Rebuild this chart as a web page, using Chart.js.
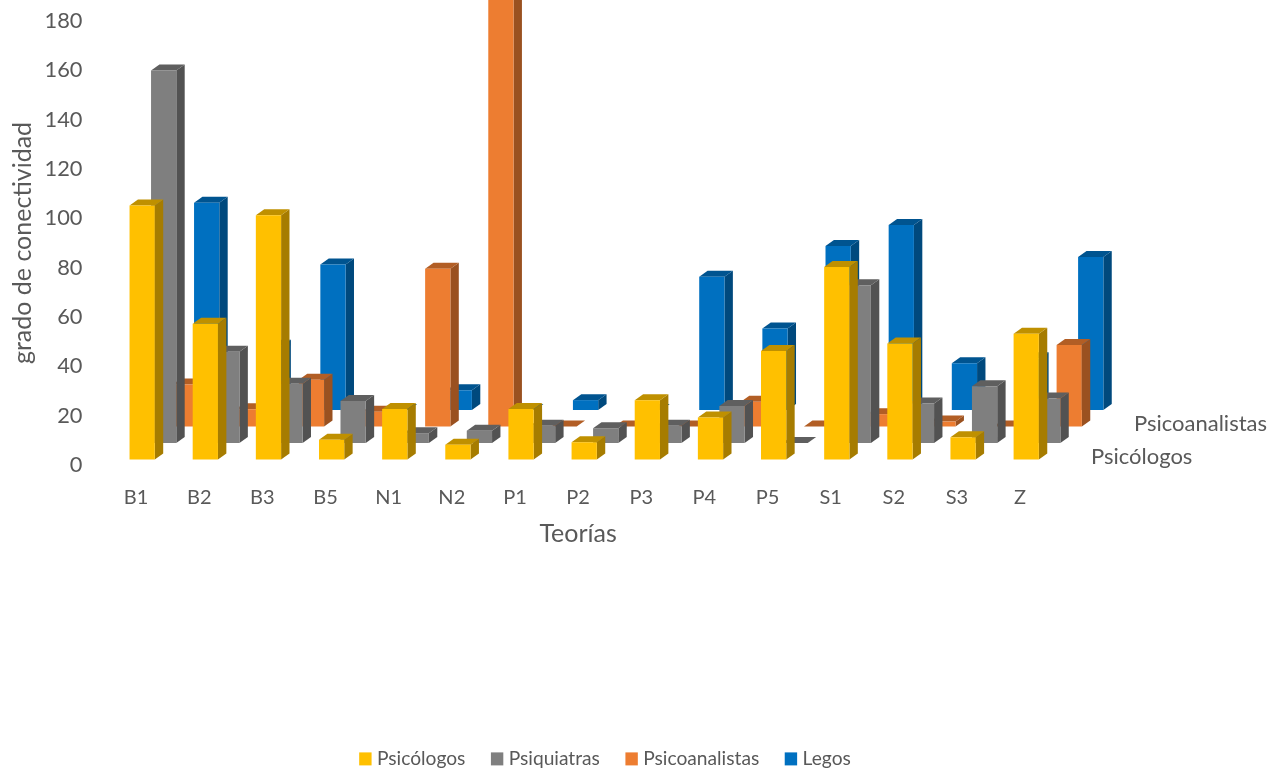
<!DOCTYPE html>
<html lang="es">
<head>
<meta charset="utf-8">
<title>Grado de conectividad por teoría</title>
<script src="https://cdn.jsdelivr.net/npm/chart.js@4/dist/chart.umd.js"></script>
<style>
  html, body { margin: 0; padding: 0; background: #fff; }
  canvas { display: block; }
</style>
</head>
<body>
<canvas id="chart" width="1287" height="772"></canvas>
<script>
const categories = ["B1", "B2", "B3", "B5", "N1", "N2", "P1", "P2", "P3", "P4", "P5", "S1", "S2", "S3", "Z"];
const psicologos = [103, 55, 99, 8, 20.5, 6, 20.5, 7, 24, 17, 44, 78, 47, 9, 51];
const psiquiatras = [151, 37, 24, 17, 4, 5, 7, 6, 7, 15, 0, 64, 16, 23, 18];
const psicoanalistas = [17, 7, 19, 6, 64, 185, 0, 0, 0, 10, 0, 5, 2, 0, 33];
const legos = [84, 26, 59, 0, 8, 0, 4, 0, 54, 33, 66.5, 75, 19, 21, 62];

const seriesNames = ["Psicólogos", "Psiquiatras", "Psicoanalistas", "Legos"];
const frontColors = ["#FFC000", "#7F7F7F", "#ED7D31", "#0070C0"];
const topColors = ["#BF9000", "#5F5F5F", "#B25E25", "#005490"];
const sideColors = ["#A67C00", "#525252", "#9A5120", "#00497D"];
const depthLabels = [["Psicólogos", 1091, 457], ["Psicoanalistas", 1134, 424]];

const FONT = "Lato, Carlito, sans-serif";
const TEXT = "#595959";

// each series sits further back on the depth axis
const SERIES_DX = 21.5, SERIES_DY = 16.5, START_DX = 6.1, START_DY = -5.5;
// extrusion of a single bar
const DEPTH_X = 8.4, DEPTH_Y = 6;

function poly(ctx, color, pts) {
  ctx.fillStyle = color;
  ctx.beginPath();
  pts.forEach((p, i) => (i ? ctx.lineTo(p[0], p[1]) : ctx.moveTo(p[0], p[1])));
  ctx.closePath();
  ctx.fill();
}

const bars3d = {
  id: "bars3d",
  // replaces the flat bars with front, top and side faces
  beforeDatasetDraw(chart, args) {
    const ctx = chart.ctx;
    const i = args.index;
    const dx = START_DX + SERIES_DX * i;
    const dy = START_DY - SERIES_DY * i;
    ctx.save();
    args.meta.data.forEach((bar) => {
      const w = bar.width;
      const x = bar.x - w / 2 + dx;
      const y = bar.y + dy;
      const b = bar.base + dy;
      poly(ctx, sideColors[i], [[x + w, y], [x + w + DEPTH_X, y - DEPTH_Y], [x + w + DEPTH_X, b - DEPTH_Y], [x + w, b]]);
      poly(ctx, topColors[i], [[x, y], [x + DEPTH_X, y - DEPTH_Y], [x + w + DEPTH_X, y - DEPTH_Y], [x + w, y]]);
      if (b - y > 0) poly(ctx, frontColors[i], [[x, y], [x + w, y], [x + w, b], [x, b]]);
    });
    ctx.restore();
    return false;
  },
  // depth axis labels and the legend row
  afterDraw(chart) {
    const ctx = chart.ctx;
    ctx.save();
    ctx.fillStyle = TEXT;
    ctx.textBaseline = "middle";
    ctx.textAlign = "left";
    ctx.font = "22px " + FONT;
    depthLabels.forEach((d) => ctx.fillText(d[0], d[1], d[2]));

    ctx.font = "19.2px " + FONT;
    const boxW = 12.4, boxGap = 5.4, itemGap = 25.5;
    const total = seriesNames.reduce((s, n) => s + boxW + boxGap + ctx.measureText(n).width, 0) + itemGap * 3;
    let x = 605 - total / 2;
    seriesNames.forEach((n, i) => {
      ctx.fillStyle = frontColors[i];
      ctx.fillRect(x, 752.4, boxW, 13);
      ctx.fillStyle = TEXT;
      ctx.fillText(n, x + boxW + boxGap, 759);
      x += boxW + boxGap + ctx.measureText(n).width + itemGap;
    });
    ctx.restore();
  }
};

new Chart(document.getElementById("chart"), {
  type: "bar",
  data: {
    labels: categories,
    datasets: [psicologos, psiquiatras, psicoanalistas, legos].map((values, i) => ({
      label: seriesNames[i],
      data: values,
      backgroundColor: frontColors[i],
      grouped: false,
      barPercentage: 0.4,
      categoryPercentage: 1
    }))
  },
  options: {
    responsive: false,
    animation: false,
    layout: { padding: { top: 0, left: 0, right: 235.3, bottom: 223 } },
    plugins: { legend: { display: false }, tooltip: { enabled: false } },
    scales: {
      x: {
        afterFit: (s) => { s.height = 84; },
        grid: { display: false, drawTicks: false },
        border: { display: false },
        ticks: { color: TEXT, padding: 21, font: { family: FONT, size: 20 }, maxRotation: 0 },
        title: { display: true, text: "Teorías", color: TEXT, padding: 0, font: { family: FONT, size: 25 } }
      },
      y: {
        min: 0,
        max: 180,
        // tick padding would otherwise push the plot area down
        afterFit: (s) => { s.width = 104.5; s.paddingTop = 21; s.paddingBottom = 0; },
        grid: { display: false, drawTicks: false },
        border: { display: false },
        ticks: { color: TEXT, stepSize: 20, padding: 22, font: { family: FONT, size: 21.8 } },
        title: { display: true, text: "grado de conectividad", color: TEXT, padding: { top: 8, bottom: 0 }, font: { family: FONT, size: 25 } }
      }
    }
  },
  plugins: [bars3d]
});
</script>
</body>
</html>
